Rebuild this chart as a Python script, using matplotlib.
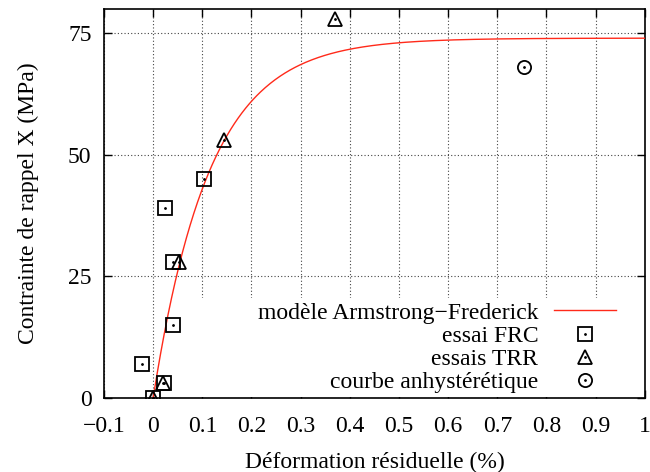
import numpy as np
import matplotlib
matplotlib.use("Agg")
import matplotlib.pyplot as plt
from matplotlib.patches import Rectangle
from matplotlib.legend_handler import HandlerTuple

plt.rcParams['font.family'] = ['Liberation Serif', 'DejaVu Serif']

# Data
frc_x = [0.103, 0.025, 0.040, 0.041, -0.023, 0.022, 0.0]
frc_y = [45, 39, 28, 15, 7, 3, 0]
trr_x = [0.369, 0.145, 0.053, 0.020, 0.0]
trr_y = [78, 53, 28, 3, 0]
anh_x = [0.755]
anh_y = [68]
# Armstrong-Frederick model parameters: X = C/gamma * (1 - exp(-gamma*eps))
af_sat = 74.0      # C/gamma (MPa)
af_gamma = 8.7     # 1/%
x_ticks = [-0.1, 0, 0.1, 0.2, 0.3, 0.4, 0.5, 0.6, 0.7, 0.8, 0.9, 1]
x_tick_labels = ['\u22120.1', '0', '0.1', '0.2', '0.3', '0.4', '0.5', '0.6', '0.7', '0.8', '0.9', '1']
y_ticks = [0, 25, 50, 75]

FS = 17
fig = plt.figure(figsize=(6.5, 4.72), dpi=100)
ax = fig.add_axes([0.16, 0.157, 0.832, 0.824])

eps = np.linspace(0, 1, 400)
model = af_sat * (1 - np.exp(-af_gamma * eps))
line_af, = ax.plot(eps, model, color='#ff2a1a', lw=1.0, zorder=3)

ms = 9.5
mew = 1.3
sq, = ax.plot(frc_x, frc_y, ls='none', marker='s', ms=ms, mfc='none', mec='black', mew=mew, zorder=4)
sqd, = ax.plot(frc_x, frc_y, ls='none', marker='.', ms=2, color='black', zorder=4)
tr, = ax.plot(trr_x, trr_y, ls='none', marker='^', ms=ms, mfc='none', mec='black', mew=mew, zorder=4)
trd, = ax.plot(trr_x, trr_y, ls='none', marker='.', ms=2, color='black', zorder=4)
ci, = ax.plot(anh_x, anh_y, ls='none', marker='o', ms=ms, mfc='none', mec='black', mew=mew, zorder=4)
cid, = ax.plot(anh_x, anh_y, ls='none', marker='.', ms=2, color='black', zorder=4)

ax.set_xlim(-0.1, 1)
ax.set_ylim(0, 80)
ax.set_xticks(x_ticks)
ax.set_xticklabels(x_tick_labels)
ax.set_yticks(y_ticks)
ax.tick_params(direction='in', length=6, width=1, top=True, right=True, labelsize=FS)
ax.tick_params(axis='x', pad=13)
ax.tick_params(axis='y', pad=9)
for s in ax.spines.values():
    s.set_linewidth(1.2)

ax.grid(True, color='#444444', linestyle=(0, (1, 2)), lw=0.8, zorder=0)
ax.set_axisbelow(True)

ax.set_xlabel('Déformation résiduelle (%)', fontsize=FS, labelpad=11)
ax.set_ylabel('Contrainte de rappel X (MPa)', fontsize=FS, labelpad=21)

# white key box (hides grid like gnuplot key)
ax.add_patch(Rectangle((0.17, 0.003), 0.828, 0.254, transform=ax.transAxes,
                       facecolor='white', edgecolor='none', zorder=1))

handles = [line_af, (sq, sqd), (tr, trd), (ci, cid)]
labels = ['modèle Armstrong\u2212Frederick', 'essai FRC', 'essais TRR', 'courbe anhystérétique']
leg = ax.legend(handles, labels, loc='lower right', bbox_to_anchor=(0.955, 0.0),
                markerfirst=False, frameon=False, fontsize=FS,
                handlelength=2.6, handletextpad=0.68, labelspacing=0.07,
                borderpad=0.2, borderaxespad=0.0,
                handler_map={tuple: HandlerTuple(ndivide=1)})

fig.savefig('out.png', dpi=100)
